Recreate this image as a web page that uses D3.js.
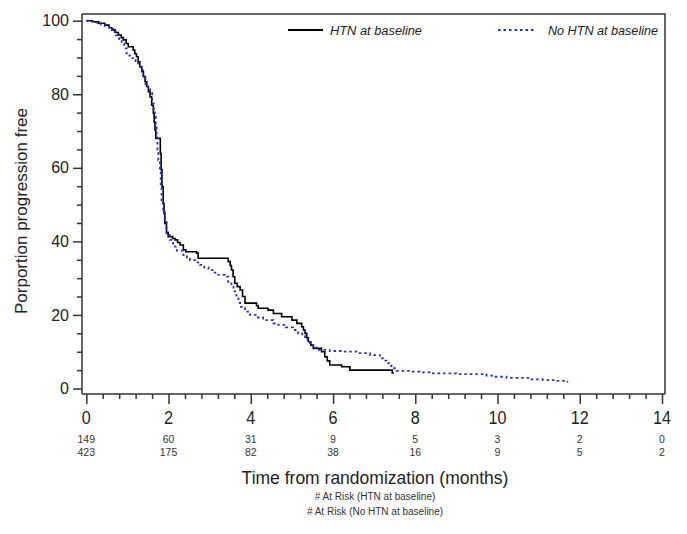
<!DOCTYPE html>
<html>
<head>
<meta charset="utf-8">
<script src="https://cdn.jsdelivr.net/npm/d3@7/dist/d3.min.js"></script>
<style>
  html, body { margin: 0; padding: 0; background: #fff; }
  svg { display: block; font-family: "Liberation Sans", Arial, sans-serif; }
</style>
</head>
<body>
<svg id="chart" width="687" height="534"></svg>
<script>
// ---------- DATA ----------
const seriesNames = ["HTN at baseline", "No HTN at baseline"];

const htnTime = [0, 0.15, 0.3, 0.45, 0.55, 0.62, 0.7, 0.78, 0.85, 0.9, 0.97, 1.02, 1.14, 1.18, 1.22, 1.26, 1.3, 1.35, 1.39, 1.43, 1.47, 1.51, 1.55, 1.59, 1.63, 1.65, 1.67, 1.69, 1.80, 1.82, 1.84, 1.87, 1.89, 1.91, 1.95, 1.99, 2.1, 2.16, 2.22, 2.28, 2.36, 2.42, 2.68, 2.72, 3.45, 3.5, 3.53, 3.57, 3.61, 3.67, 3.74, 3.8, 3.86, 4.14, 4.18, 4.42, 4.55, 4.75, 5.0, 5.12, 5.24, 5.28, 5.32, 5.36, 5.4, 5.46, 5.52, 5.72, 5.8, 5.86, 5.92, 6.21, 6.41, 7.44, 7.48];
const htnSurv = [100, 99.7, 99.3, 98.8, 98.1, 97.5, 96.8, 96.1, 95.4, 94.8, 93.8, 92.9, 92.0, 91.0, 90.2, 88.8, 87.5, 86.1, 84.8, 83.4, 82.1, 80.7, 79.3, 77.0, 74.8, 72.5, 70.3, 68.0, 63.9, 59.5, 54.9, 50.3, 47.5, 44.9, 42.5, 41.3, 40.8, 40.4, 39.7, 39.0, 37.7, 37.2, 36.8, 35.4, 34.5, 33.4, 32.2, 30.4, 28.6, 27.7, 26.8, 25.0, 23.2, 22.5, 21.8, 21.3, 20.4, 19.5, 18.6, 17.7, 16.8, 15.9, 15.0, 13.8, 12.7, 11.8, 10.9, 10.0, 8.6, 7.5, 6.4, 5.9, 5.0, 4.2, 4.2];

const noHtnTime = [0, 0.1, 0.2, 0.35, 0.45, 0.55, 0.65, 0.72, 0.8, 0.86, 0.92, 0.98, 1.05, 1.12, 1.2, 1.26, 1.32, 1.38, 1.44, 1.5, 1.55, 1.6, 1.64, 1.67, 1.69, 1.71, 1.73, 1.75, 1.79, 1.81, 1.83, 1.87, 1.91, 1.95, 2.03, 2.11, 2.2, 2.36, 2.45, 2.52, 2.65, 2.76, 2.87, 2.97, 3.1, 3.21, 3.37, 3.45, 3.53, 3.58, 3.65, 3.7, 3.74, 3.86, 3.98, 4.15, 4.3, 4.55, 4.67, 4.85, 5.03, 5.15, 5.25, 5.32, 5.38, 5.44, 5.52, 5.6, 5.92, 6.25, 6.57, 6.9, 7.14, 7.22, 7.3, 7.36, 7.42, 7.54, 7.87, 8.11, 8.35, 9.0, 9.73, 9.93, 10.22, 10.79, 11.1, 11.43, 11.68, 11.72];
const noHtnSurv = [100, 99.8, 99.5, 99.0, 98.5, 97.8, 97.0, 96.0, 95.0, 93.8, 92.5, 91.1, 90.5, 89.8, 89.0, 88.4, 86.5, 84.6, 82.6, 81.4, 80.3, 77.5, 75.5, 73.9, 71.0, 68.5, 65.0, 62.1, 59.4, 55.0, 50.3, 48.0, 45.8, 42.2, 40.4, 38.6, 37.5, 36.3, 35.6, 34.9, 34.3, 33.6, 32.9, 32.2, 31.5, 30.9, 30.4, 29.0, 27.7, 26.4, 24.5, 23.3, 22.2, 20.9, 20.0, 19.3, 18.6, 17.7, 17.3, 16.6, 15.9, 15.0, 14.3, 13.6, 12.7, 11.8, 11.1, 10.5, 10.2, 10.0, 9.6, 9.1, 8.2, 7.6, 6.9, 6.2, 5.5, 4.8, 4.6, 4.4, 4.1, 3.9, 3.5, 3.2, 2.9, 2.5, 2.3, 2.1, 1.85, 1.85];

const xTicks = [0, 2, 4, 6, 8, 10, 12, 14];
const yTicks = [0, 20, 40, 60, 80, 100];
const atRiskHTN = [149, 60, 31, 9, 5, 3, 2, 0];
const atRiskNoHTN = [423, 175, 82, 38, 16, 9, 5, 2];

// ---------- LAYOUT ----------
const frame = { left: 82, right: 665, top: 14, bottom: 394 };
const x = d3.scaleLinear().domain([0, 14]).range([86.3, 662]);
const y = d3.scaleLinear().domain([0, 100]).range([388.5, 20.7]);
const axisColor = "#333";

const svg = d3.select("#chart");

// Frame (top and right)
svg.append("path")
  .attr("d", `M${frame.left},${frame.top}H${frame.right}V${frame.bottom}`)
  .attr("fill", "none").attr("stroke", axisColor).attr("stroke-width", 1.5);

// Y axis
const yMinor = d3.range(0, 101, 5).filter(v => v % 20 !== 0);
const yAxisG = svg.append("g").attr("transform", `translate(${frame.left},0)`);
yAxisG.append("line").attr("x1", 0).attr("x2", 0).attr("y1", frame.top).attr("y2", frame.bottom)
  .attr("stroke", axisColor).attr("stroke-width", 1.5);
const yMaj = yAxisG.append("g").call(d3.axisLeft(y).tickValues(yTicks).tickSize(9).tickPadding(4));
const yMin = yAxisG.append("g").call(d3.axisLeft(y).tickValues(yMinor).tickSize(5).tickFormat(""));
[yMaj, yMin].forEach(g => {
  g.select(".domain").remove();
  g.selectAll(".tick line").attr("stroke", axisColor).attr("stroke-width", 1.5);
});
yMaj.selectAll(".tick text").attr("font-size", 16).attr("fill", "#222")
  .attr("font-family", "Liberation Sans, Arial, sans-serif");

// X axis
const xMinor = d3.range(0, 14.01, 0.4).filter(v => Math.abs(v / 2 - Math.round(v / 2)) > 1e-6);
const xAxisG = svg.append("g").attr("transform", `translate(0,${frame.bottom})`);
xAxisG.append("line").attr("x1", frame.left).attr("x2", frame.right).attr("y1", 0).attr("y2", 0)
  .attr("stroke", axisColor).attr("stroke-width", 1.5);
const xMaj = xAxisG.append("g").call(d3.axisBottom(x).tickValues(xTicks).tickSize(10).tickFormat(""));
const xMin = xAxisG.append("g").call(d3.axisBottom(x).tickValues(xMinor).tickSize(5).tickFormat(""));
[xMaj, xMin].forEach(g => {
  g.select(".domain").remove();
  g.selectAll(".tick line").attr("stroke", axisColor).attr("stroke-width", 1.5);
});
// x tick labels (tall, narrow)
svg.append("g").selectAll("text").data(xTicks).join("text")
  .attr("transform", d => `translate(${x(d)},424) scale(0.85,1)`)
  .attr("text-anchor", "middle").attr("font-size", 19).attr("fill", "#222")
  .text(d => d);

// At-risk rows
svg.append("g").selectAll("text").data(atRiskHTN).join("text")
  .attr("x", (d, i) => x(xTicks[i])).attr("y", 443)
  .attr("text-anchor", "middle").attr("font-size", 10.5).attr("fill", "#333")
  .text(d => d);
svg.append("g").selectAll("text").data(atRiskNoHTN).join("text")
  .attr("x", (d, i) => x(xTicks[i])).attr("y", 456)
  .attr("text-anchor", "middle").attr("font-size", 10.5).attr("fill", "#333")
  .text(d => d);

// Titles
svg.append("text").attr("x", 375).attr("y", 484).attr("text-anchor", "middle")
  .attr("font-size", 17.5).attr("fill", "#222").text("Time from randomization (months)");
svg.append("text").attr("x", 375).attr("y", 500).attr("text-anchor", "middle")
  .attr("font-size", 10).attr("fill", "#333").text("# At Risk (HTN at baseline)");
svg.append("text").attr("x", 375).attr("y", 515).attr("text-anchor", "middle")
  .attr("font-size", 10).attr("fill", "#333").text("# At Risk (No HTN at baseline)");
svg.append("text").attr("transform", "translate(27,211) rotate(-90)").attr("text-anchor", "middle")
  .attr("font-size", 17).attr("fill", "#222").text("Porportion progression free");

// Curves
const line = d3.line().x(d => x(d[0])).y(d => y(d[1])).curve(d3.curveStepAfter);
const htnData = htnTime.map((t, i) => [t, htnSurv[i]]);
const noHtnData = noHtnTime.map((t, i) => [t, noHtnSurv[i]]);
const blue = "#2a2ad2";

svg.append("path").datum(htnData).attr("d", line)
  .attr("fill", "none").attr("stroke", "#000").attr("stroke-width", 1.6);
svg.append("path").datum(noHtnData).attr("d", line)
  .attr("fill", "none").attr("stroke", blue).attr("stroke-width", 1.8)
  .attr("stroke-dasharray", "2.5,3");

// Legend
const lg = svg.append("g");
lg.append("line").attr("x1", 288).attr("x2", 323).attr("y1", 30).attr("y2", 30)
  .attr("stroke", "#000").attr("stroke-width", 2);
lg.append("text").attr("x", 330).attr("y", 35).attr("font-size", 12.5).attr("font-style", "italic")
  .attr("fill", "#222").attr("textLength", 92).attr("lengthAdjust", "spacingAndGlyphs")
  .text(seriesNames[0]);
lg.append("line").attr("x1", 498).attr("x2", 534).attr("y1", 30).attr("y2", 30)
  .attr("stroke", blue).attr("stroke-width", 2).attr("stroke-dasharray", "2.5,3");
lg.append("text").attr("x", 548).attr("y", 35).attr("font-size", 12.5).attr("font-style", "italic")
  .attr("fill", "#222").attr("textLength", 110).attr("lengthAdjust", "spacingAndGlyphs")
  .text(seriesNames[1]);
</script>
</body>
</html>
